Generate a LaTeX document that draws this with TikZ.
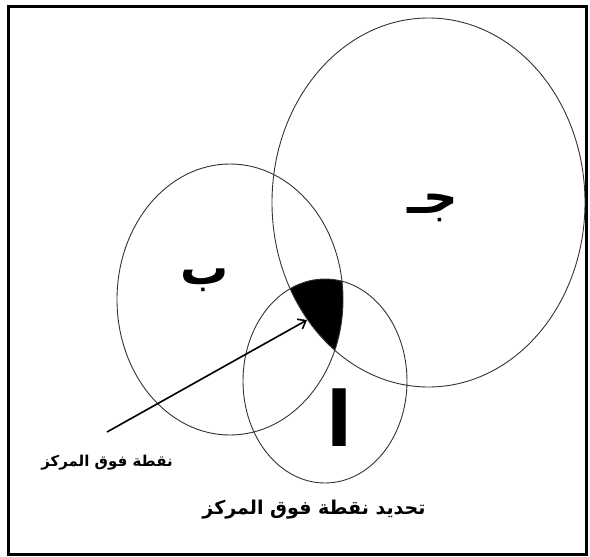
\documentclass[tikz,border=0pt]{standalone}
\usepackage{fontspec}
\usetikzlibrary{arrows.meta}
\TeXXeTstate=1
\newfontfamily\arabicfont[Script=Arabic]{DejaVu Sans}
\tikzset{
  ring/.style={draw=black!80, line width=0.9pt},
  letter/.style={font=\arabicfont\bfseries\fontsize{48}{48}\selectfont},
  label/.style={font=\arabicfont\bfseries\fontsize{15}{15}\selectfont},
}
\begin{document}
\begin{tikzpicture}[x=1pt, y=-1pt, >={Straight Barb[length=7pt, width=11pt]}]
  \useasboundingbox (0,0) rectangle (590,557);

  % الإطار
  \draw[line width=3pt] (8.5,6) rectangle (586.5,554);

  % منطقة التقاطع
  \begin{scope}
    \clip (428.5,202.5) ellipse [x radius=156.5pt, y radius=184.5pt];
    \clip (230,299.5) ellipse [x radius=113pt, y radius=135.5pt];
    \fill (325,381) ellipse [x radius=82pt, y radius=102pt];
  \end{scope}

  % الدوائر
  \draw[ring] (428.5,202.5) ellipse [x radius=156.5pt, y radius=184.5pt];
  \draw[ring] (230,299.5) ellipse [x radius=113pt, y radius=135.5pt];
  \draw[ring] (325,381) ellipse [x radius=82pt, y radius=102pt];

  % الحروف
  \node[letter] (jim) at (433,208) {\beginR جـ\endR};
  \node[letter] (ba) at (205,280) {\beginR ب\endR};
  \node[letter, font=\arabicfont\bfseries\fontsize{76}{76}\selectfont] (alif) at (340,418) {\beginR ا\endR};

  % السهم
  \coordinate (tail) at (107,432);
  \coordinate (tip) at (307,320);
  \draw[->, line width=1.6pt] (tail) -- (tip);

  % النصوص
  \node[label] (point) at (107,463) {\beginR نقطة فوق المركز\endR};
  \node[label, font=\arabicfont\bfseries\fontsize{19}{19}\selectfont] (caption) at (314,510)
    {\beginR تحديد نقطة فوق المركز\endR};
\end{tikzpicture}
\end{document}
